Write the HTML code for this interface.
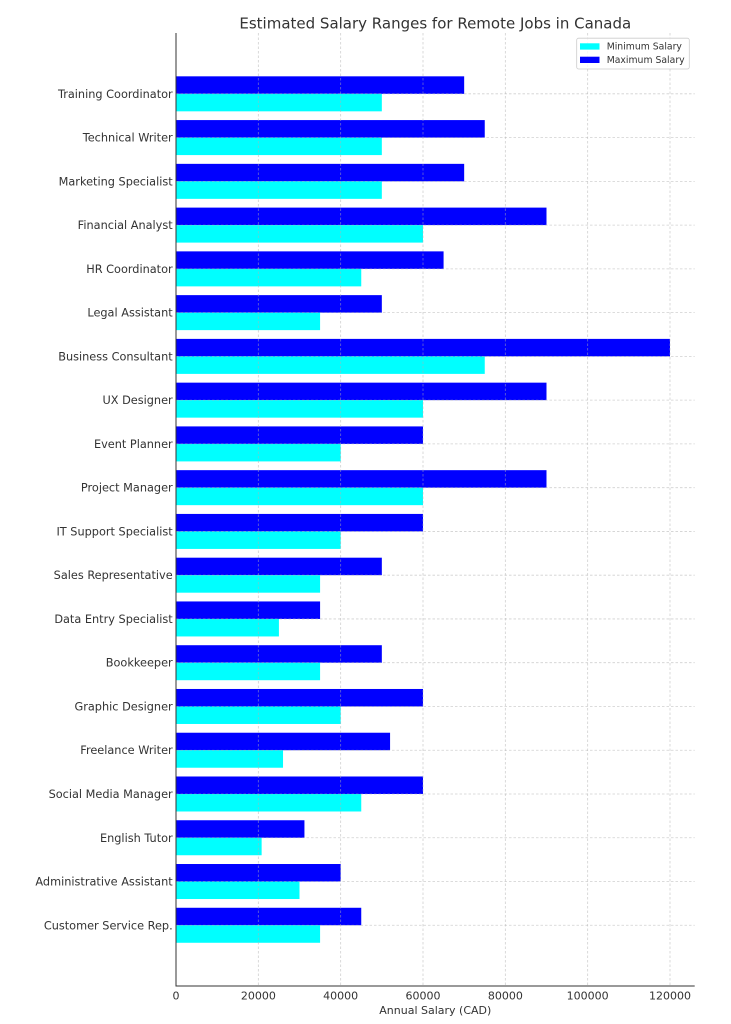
<!DOCTYPE html>
<html>
<head>
<meta charset="utf-8">
<style>
html,body{margin:0;padding:0;background:#fff;}
svg{display:block;}
text{font-family:"DejaVu Sans","Liberation Sans",sans-serif;fill:#333;}
</style>
</head>
<body>
<svg width="731" height="1024" viewBox="0 0 731 1024" xmlns="http://www.w3.org/2000/svg">
<rect x="0" y="0" width="731" height="1024" fill="#fff"/>
<text x="435.3" y="28.3" font-size="15" text-anchor="middle" fill="#333">Estimated Salary Ranges for Remote Jobs in Canada</text>

<g id="bars">
<rect x="176" y="76.33" width="288.17" height="17.5" fill="#0000ff"/>
<rect x="176" y="93.83" width="205.83" height="17.5" fill="#00ffff"/>
<rect x="176" y="120.09" width="308.75" height="17.5" fill="#0000ff"/>
<rect x="176" y="137.59" width="205.83" height="17.5" fill="#00ffff"/>
<rect x="176" y="163.85" width="288.17" height="17.5" fill="#0000ff"/>
<rect x="176" y="181.35" width="205.83" height="17.5" fill="#00ffff"/>
<rect x="176" y="207.61" width="370.5" height="17.5" fill="#0000ff"/>
<rect x="176" y="225.11" width="247" height="17.5" fill="#00ffff"/>
<rect x="176" y="251.37" width="267.58" height="17.5" fill="#0000ff"/>
<rect x="176" y="268.87" width="185.25" height="17.5" fill="#00ffff"/>
<rect x="176" y="295.13" width="205.83" height="17.5" fill="#0000ff"/>
<rect x="176" y="312.63" width="144.08" height="17.5" fill="#00ffff"/>
<rect x="176" y="338.89" width="494" height="17.5" fill="#0000ff"/>
<rect x="176" y="356.39" width="308.75" height="17.5" fill="#00ffff"/>
<rect x="176" y="382.65" width="370.5" height="17.5" fill="#0000ff"/>
<rect x="176" y="400.15" width="247" height="17.5" fill="#00ffff"/>
<rect x="176" y="426.41" width="247" height="17.5" fill="#0000ff"/>
<rect x="176" y="443.91" width="164.67" height="17.5" fill="#00ffff"/>
<rect x="176" y="470.17" width="370.5" height="17.5" fill="#0000ff"/>
<rect x="176" y="487.67" width="247" height="17.5" fill="#00ffff"/>
<rect x="176" y="513.93" width="247" height="17.5" fill="#0000ff"/>
<rect x="176" y="531.43" width="164.67" height="17.5" fill="#00ffff"/>
<rect x="176" y="557.69" width="205.83" height="17.5" fill="#0000ff"/>
<rect x="176" y="575.19" width="144.08" height="17.5" fill="#00ffff"/>
<rect x="176" y="601.45" width="144.08" height="17.5" fill="#0000ff"/>
<rect x="176" y="618.95" width="102.92" height="17.5" fill="#00ffff"/>
<rect x="176" y="645.21" width="205.83" height="17.5" fill="#0000ff"/>
<rect x="176" y="662.71" width="144.08" height="17.5" fill="#00ffff"/>
<rect x="176" y="688.97" width="247" height="17.5" fill="#0000ff"/>
<rect x="176" y="706.47" width="164.67" height="17.5" fill="#00ffff"/>
<rect x="176" y="732.73" width="214.07" height="17.5" fill="#0000ff"/>
<rect x="176" y="750.23" width="107.03" height="17.5" fill="#00ffff"/>
<rect x="176" y="776.49" width="247" height="17.5" fill="#0000ff"/>
<rect x="176" y="793.99" width="185.25" height="17.5" fill="#00ffff"/>
<rect x="176" y="820.25" width="128.44" height="17.5" fill="#0000ff"/>
<rect x="176" y="837.75" width="85.63" height="17.5" fill="#00ffff"/>
<rect x="176" y="864.01" width="164.67" height="17.5" fill="#0000ff"/>
<rect x="176" y="881.51" width="123.5" height="17.5" fill="#00ffff"/>
<rect x="176" y="907.77" width="185.25" height="17.5" fill="#0000ff"/>
<rect x="176" y="925.27" width="144.08" height="17.5" fill="#00ffff"/>
</g>

<g stroke="#b0b0b0" stroke-opacity="0.6" stroke-width="0.8" stroke-dasharray="2.5,2" fill="none">
<line x1="258.33" y1="33" x2="258.33" y2="986"/>
<line x1="340.67" y1="33" x2="340.67" y2="986"/>
<line x1="423" y1="33" x2="423" y2="986"/>
<line x1="505.33" y1="33" x2="505.33" y2="986"/>
<line x1="587.67" y1="33" x2="587.67" y2="986"/>
<line x1="670" y1="33" x2="670" y2="986"/>
<line x1="176" y1="93.83" x2="694.7" y2="93.83"/>
<line x1="176" y1="137.59" x2="694.7" y2="137.59"/>
<line x1="176" y1="181.35" x2="694.7" y2="181.35"/>
<line x1="176" y1="225.11" x2="694.7" y2="225.11"/>
<line x1="176" y1="268.87" x2="694.7" y2="268.87"/>
<line x1="176" y1="312.63" x2="694.7" y2="312.63"/>
<line x1="176" y1="356.39" x2="694.7" y2="356.39"/>
<line x1="176" y1="400.15" x2="694.7" y2="400.15"/>
<line x1="176" y1="443.91" x2="694.7" y2="443.91"/>
<line x1="176" y1="487.67" x2="694.7" y2="487.67"/>
<line x1="176" y1="531.43" x2="694.7" y2="531.43"/>
<line x1="176" y1="575.19" x2="694.7" y2="575.19"/>
<line x1="176" y1="618.95" x2="694.7" y2="618.95"/>
<line x1="176" y1="662.71" x2="694.7" y2="662.71"/>
<line x1="176" y1="706.47" x2="694.7" y2="706.47"/>
<line x1="176" y1="750.23" x2="694.7" y2="750.23"/>
<line x1="176" y1="793.99" x2="694.7" y2="793.99"/>
<line x1="176" y1="837.75" x2="694.7" y2="837.75"/>
<line x1="176" y1="881.51" x2="694.7" y2="881.51"/>
<line x1="176" y1="925.27" x2="694.7" y2="925.27"/>
</g>

<g stroke="#333" stroke-width="1">
<line x1="176" y1="33" x2="176" y2="986.5"/>
<line x1="175.5" y1="986" x2="694.7" y2="986"/>
</g>

<g font-size="11.3" text-anchor="end">
<text x="172.7" y="97.8">Training Coordinator</text>
<text x="172.7" y="141.6">Technical Writer</text>
<text x="172.7" y="185.4">Marketing Specialist</text>
<text x="172.7" y="229.1">Financial Analyst</text>
<text x="172.7" y="272.9">HR Coordinator</text>
<text x="172.7" y="316.6">Legal Assistant</text>
<text x="172.7" y="360.4">Business Consultant</text>
<text x="172.7" y="404.2">UX Designer</text>
<text x="172.7" y="447.9">Event Planner</text>
<text x="172.7" y="491.7">Project Manager</text>
<text x="172.7" y="535.4">IT Support Specialist</text>
<text x="172.7" y="579.2">Sales Representative</text>
<text x="172.7" y="623.0">Data Entry Specialist</text>
<text x="172.7" y="666.7">Bookkeeper</text>
<text x="172.7" y="710.5">Graphic Designer</text>
<text x="172.7" y="754.2">Freelance Writer</text>
<text x="172.7" y="798.0">Social Media Manager</text>
<text x="172.7" y="841.8">English Tutor</text>
<text x="172.7" y="885.5">Administrative Assistant</text>
<text x="172.7" y="929.3">Customer Service Rep.</text>
</g>

<g font-size="11" text-anchor="middle">
<text x="176" y="999.3">0</text>
<text x="258.33" y="999.3">20000</text>
<text x="340.67" y="999.3">40000</text>
<text x="423" y="999.3">60000</text>
<text x="505.33" y="999.3">80000</text>
<text x="587.67" y="999.3">100000</text>
<text x="670" y="999.3">120000</text>
<text x="435.3" y="1014">Annual Salary (CAD)</text>
</g>

<g>
<rect x="576.7" y="38.2" width="112.6" height="30.8" rx="2" ry="2" fill="#fff" fill-opacity="0.8" stroke="#cccccc" stroke-width="0.8"/>
<rect x="580" y="43.3" width="19.5" height="6.3" fill="#00ffff"/>
<rect x="580" y="56.7" width="19.5" height="6.3" fill="#0000ff"/>
<text x="606.7" y="49.6" font-size="9.3" fill="#444">Minimum Salary</text>
<text x="606.7" y="63.0" font-size="9.3" fill="#444">Maximum Salary</text>
</g>
</svg>
</body>
</html>
